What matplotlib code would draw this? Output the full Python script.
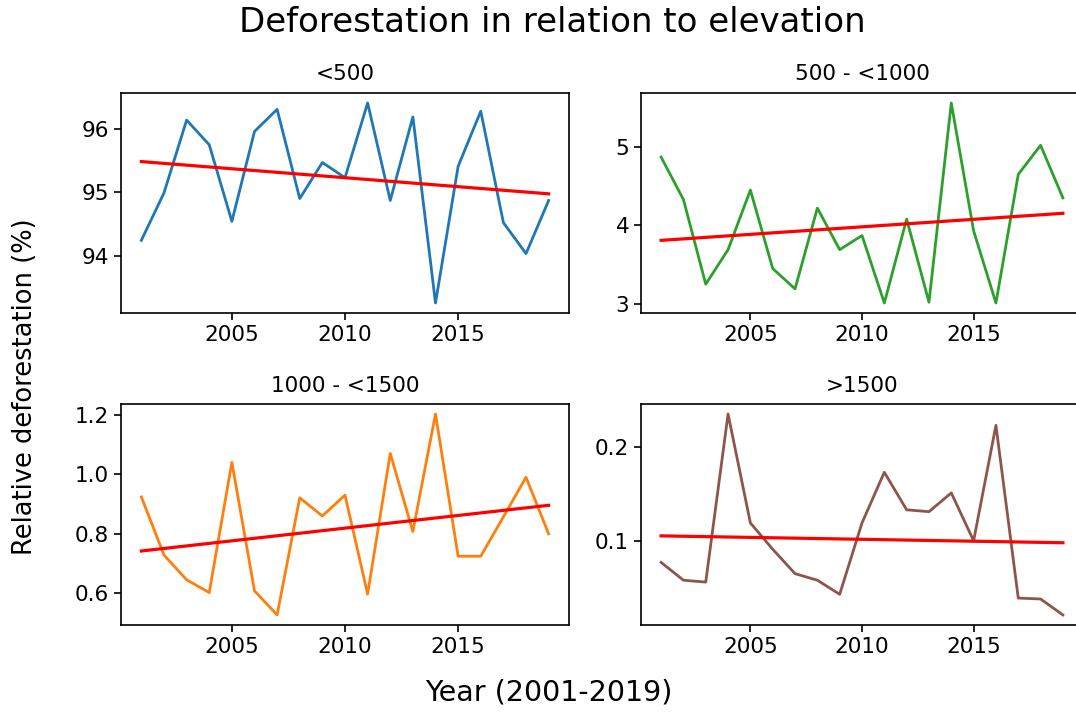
import matplotlib
matplotlib.use("Agg")
import matplotlib.pyplot as plt
import numpy as np

years = np.arange(2001, 2020)

# relative deforestation (%) per elevation band
below_500 = [94.24, 94.99, 96.14, 95.75, 94.54, 95.96, 96.31, 94.90, 95.47, 95.23,
             96.41, 94.87, 96.19, 93.25, 95.41, 96.28, 94.52, 94.03, 94.87]
from_500 = [4.87, 4.33, 3.25, 3.69, 4.45, 3.45, 3.19, 4.22, 3.69, 3.87,
            3.01, 4.08, 3.02, 5.56, 3.93, 3.01, 4.65, 5.02, 4.35]
from_1000 = [0.924, 0.729, 0.646, 0.603, 1.04, 0.609, 0.528, 0.921, 0.86, 0.93,
             0.598, 1.07, 0.808, 1.202, 0.725, 0.725, 0.857, 0.99, 0.80]
above_1500 = [0.077, 0.058, 0.056, 0.235, 0.119, 0.091, 0.065, 0.058, 0.043, 0.119,
              0.173, 0.133, 0.131, 0.151, 0.100, 0.223, 0.039, 0.038, 0.021]

band_titles = ['<500', '500 - <1000', '1000 - <1500', '>1500']
band_values = [below_500, from_500, from_1000, above_1500]
band_colors = ['tab:blue', 'tab:green', 'tab:orange', 'tab:brown']

W, H = 1076, 713
fig = plt.figure(figsize=(W / 100, H / 100), dpi=100)

# axes boxes in pixels: left, top, right, bottom (right column runs off the image)
boxes = [(121, 93, 569, 313), (641, 93, 1083, 313),
         (121, 404, 569, 625), (641, 404, 1083, 625)]

for (l, t, r, b), title, vals, col in zip(boxes, band_titles, band_values, band_colors):
    ax = fig.add_axes([l / W, 1 - b / H, (r - l) / W, (b - t) / H])
    vals = np.array(vals)
    ax.plot(years, vals, color=col, linewidth=2.0)
    k, c = np.polyfit(years, vals, 1)
    ax.plot(years, k * years + c, color='r', linewidth=2.3)
    ax.set_title(title, fontsize=15.5, pad=9)
    ax.set_xticks([2005, 2010, 2015])
    ax.tick_params(labelsize=15.5, length=5, width=1.2)
    for s in ax.spines.values():
        s.set_linewidth(1.2)

fig.axes[1].set_yticks([3, 4, 5])
fig.axes[3].set_yticks([0.1, 0.2])

fig.text(552 / W, 1 - 22 / H, 'Deforestation in relation to elevation',
         ha='center', va='center', fontsize=24.5)
fig.text(25 / W, 1 - 387 / H, 'Relative deforestation (%)',
         ha='center', va='center', rotation=90, fontsize=18.5)
fig.text(549 / W, 1 - 693 / H, 'Year (2001-2019)',
         ha='center', va='center', fontsize=20.5)

fig.savefig('out.png', dpi=100)
